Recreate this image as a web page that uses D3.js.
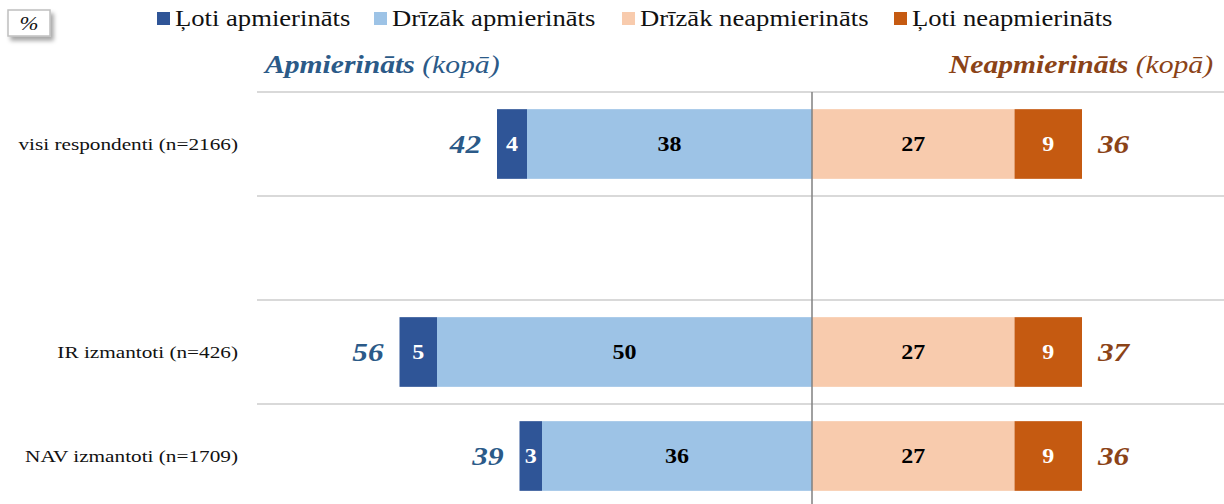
<!DOCTYPE html>
<html>
<head>
<meta charset="utf-8">
<script src="https://cdn.jsdelivr.net/npm/d3@7"></script>
<style>
  html, body { margin: 0; padding: 0; background: #fff; }
  svg { display: block; font-family: "Liberation Serif", "Times New Roman", serif; }
</style>
</head>
<body>
<svg id="chart" width="1224" height="504"></svg>
<script>
// Row labels (the second row is an intentional empty spacer)
const categories = ["visi respondenti (n=2166)", "", "IR izmantoti (n=426)", "NAV izmantoti (n=1709)"];
// Segment values, %
const lotiApm = [4, null, 5, 3];
const drizakApm = [38, null, 50, 36];
const drizakNeapm = [27, null, 27, 27];
const lotiNeapm = [9, null, 9, 9];
// Summed labels shown at bar ends
const totalApm = [42, null, 56, 39];
const totalNeapm = [36, null, 37, 36];
// Legend
const seriesNames = ["Ļoti apmierināts", "Drīzāk apmierināts", "Drīzāk neapmierināts", "Ļoti neapmierināts"];
const seriesColors = ["#2f5597", "#9dc3e6", "#f8cbad", "#c55a11"];

const svg = d3.select("#chart");
const W = 1224, H = 504;
// text in this layout is set slightly wide
const SX = 1.2;

const x = d3.scaleLinear().domain([-70, 55]).range([287, 1224.5]);
const y = d3.scaleBand()
  .domain(categories.map((d, i) => i))
  .range([92, 508])
  .paddingInner(0.33)
  .paddingOuter(0.165);

const blue = "#2b5a88", brown = "#8b4317";

// place a text element at (px, py) with the horizontal stretch
function place(sel, px, py) {
  return sel.attr("x", 0).attr("y", 0)
    .attr("transform", (d, i) => {
      const X = typeof px === "function" ? px(d, i) : px;
      const Y = typeof py === "function" ? py(d, i) : py;
      return `translate(${X},${Y}) scale(${SX},1)`;
    });
}

// drop shadow for the unit box
const defs = svg.append("defs");
const f = defs.append("filter").attr("id", "shadow").attr("x", "-30%").attr("y", "-30%").attr("width", "170%").attr("height", "190%");
f.append("feDropShadow").attr("dx", 3).attr("dy", 4).attr("stdDeviation", 2).attr("flood-color", "#000").attr("flood-opacity", 0.35);

// unit box
svg.append("rect").attr("x", 8).attr("y", 10).attr("width", 42).attr("height", 26)
  .attr("fill", "#fff").attr("stroke", "#bfbfbf").attr("stroke-width", 1.5).attr("filter", "url(#shadow)");
place(svg.append("text"), 29, 30).attr("text-anchor", "middle")
  .attr("font-size", 19).attr("font-style", "italic").attr("fill", "#111").text("%");

// legend
const legendX = [157, 374, 622, 894];
const lg = svg.append("g").selectAll("g").data(seriesNames).join("g")
  .attr("transform", (d, i) => `translate(${legendX[i]},0)`);
lg.append("rect").attr("x", 0).attr("y", 12).attr("width", 13).attr("height", 13)
  .attr("fill", (d, i) => seriesColors[i]);
place(lg.append("text"), 18, 26).attr("font-size", 22.2).attr("fill", "#111").text(d => d);

// group headers
const h1 = place(svg.append("text"), 265, 73).attr("font-size", 24.7).attr("fill", blue).attr("font-style", "italic");
h1.append("tspan").attr("font-weight", "bold").text("Apmierināts");
h1.append("tspan").text(" (kopā)");
const h2 = place(svg.append("text"), 1213, 73).attr("text-anchor", "end").attr("font-size", 24.7).attr("fill", brown).attr("font-style", "italic");
h2.append("tspan").attr("font-weight", "bold").text("Neapmierināts");
h2.append("tspan").text(" (kopā)");

// horizontal separators between rows
const sepY = i => y(i) - y.step() * y.paddingInner() / 2;
svg.append("g").selectAll("line").data(categories.map((d, i) => i)).join("line")
  .attr("x1", 257).attr("x2", W)
  .attr("y1", sepY).attr("y2", sepY)
  .attr("stroke", "#d9d9d9").attr("stroke-width", 2);

// stacked segments
const rows = categories.map((c, i) => ({ i, vals: [lotiApm[i], drizakApm[i], drizakNeapm[i], lotiNeapm[i]] }))
  .filter(r => r.vals[0] != null);

const segs = [];
rows.forEach(r => {
  const [a, b, c, d] = r.vals;
  segs.push({ i: r.i, s: 0, x0: -(a + b), x1: -b, v: a });
  segs.push({ i: r.i, s: 1, x0: -b, x1: 0, v: b });
  segs.push({ i: r.i, s: 2, x0: 0, x1: c, v: c });
  segs.push({ i: r.i, s: 3, x0: c, x1: c + d, v: d });
});

svg.append("g").selectAll("rect").data(segs).join("rect")
  .attr("x", d => x(d.x0)).attr("width", d => x(d.x1) - x(d.x0))
  .attr("y", d => y(d.i)).attr("height", y.bandwidth())
  .attr("fill", d => seriesColors[d.s]);

place(svg.append("g").selectAll("text").data(segs).join("text"),
    d => (x(d.x0) + x(d.x1)) / 2, d => y(d.i) + y.bandwidth() / 2)
  .attr("dy", "0.35em").attr("text-anchor", "middle")
  .attr("font-size", 20).attr("font-weight", "bold")
  .attr("fill", d => (d.s === 0 || d.s === 3) ? "#fff" : "#000")
  .text(d => d.v);

// center axis line
svg.append("line").attr("x1", x(0)).attr("x2", x(0)).attr("y1", 92).attr("y2", H)
  .attr("stroke", "#808080").attr("stroke-width", 1.5);

// totals at bar ends
place(svg.append("g").selectAll("text").data(rows).join("text"),
    r => x(-(r.vals[0] + r.vals[1])) - 16, r => y(r.i) + y.bandwidth() / 2)
  .attr("dy", "0.35em").attr("text-anchor", "end")
  .attr("font-size", 26).attr("font-weight", "bold").attr("font-style", "italic").attr("fill", blue)
  .text(r => totalApm[r.i]);
place(svg.append("g").selectAll("text").data(rows).join("text"),
    r => x(r.vals[2] + r.vals[3]) + 16, r => y(r.i) + y.bandwidth() / 2)
  .attr("dy", "0.35em").attr("text-anchor", "start")
  .attr("font-size", 26).attr("font-weight", "bold").attr("font-style", "italic").attr("fill", brown)
  .text(r => totalNeapm[r.i]);

// row labels
place(svg.append("g").selectAll("text").data(categories.map((c, i) => ({ c, i }))).join("text"),
    238, d => y(d.i) + y.bandwidth() / 2)
  .attr("dy", "0.35em").attr("text-anchor", "end")
  .attr("font-size", 17.7).attr("fill", "#111")
  .text(d => d.c);
</script>
</body>
</html>
